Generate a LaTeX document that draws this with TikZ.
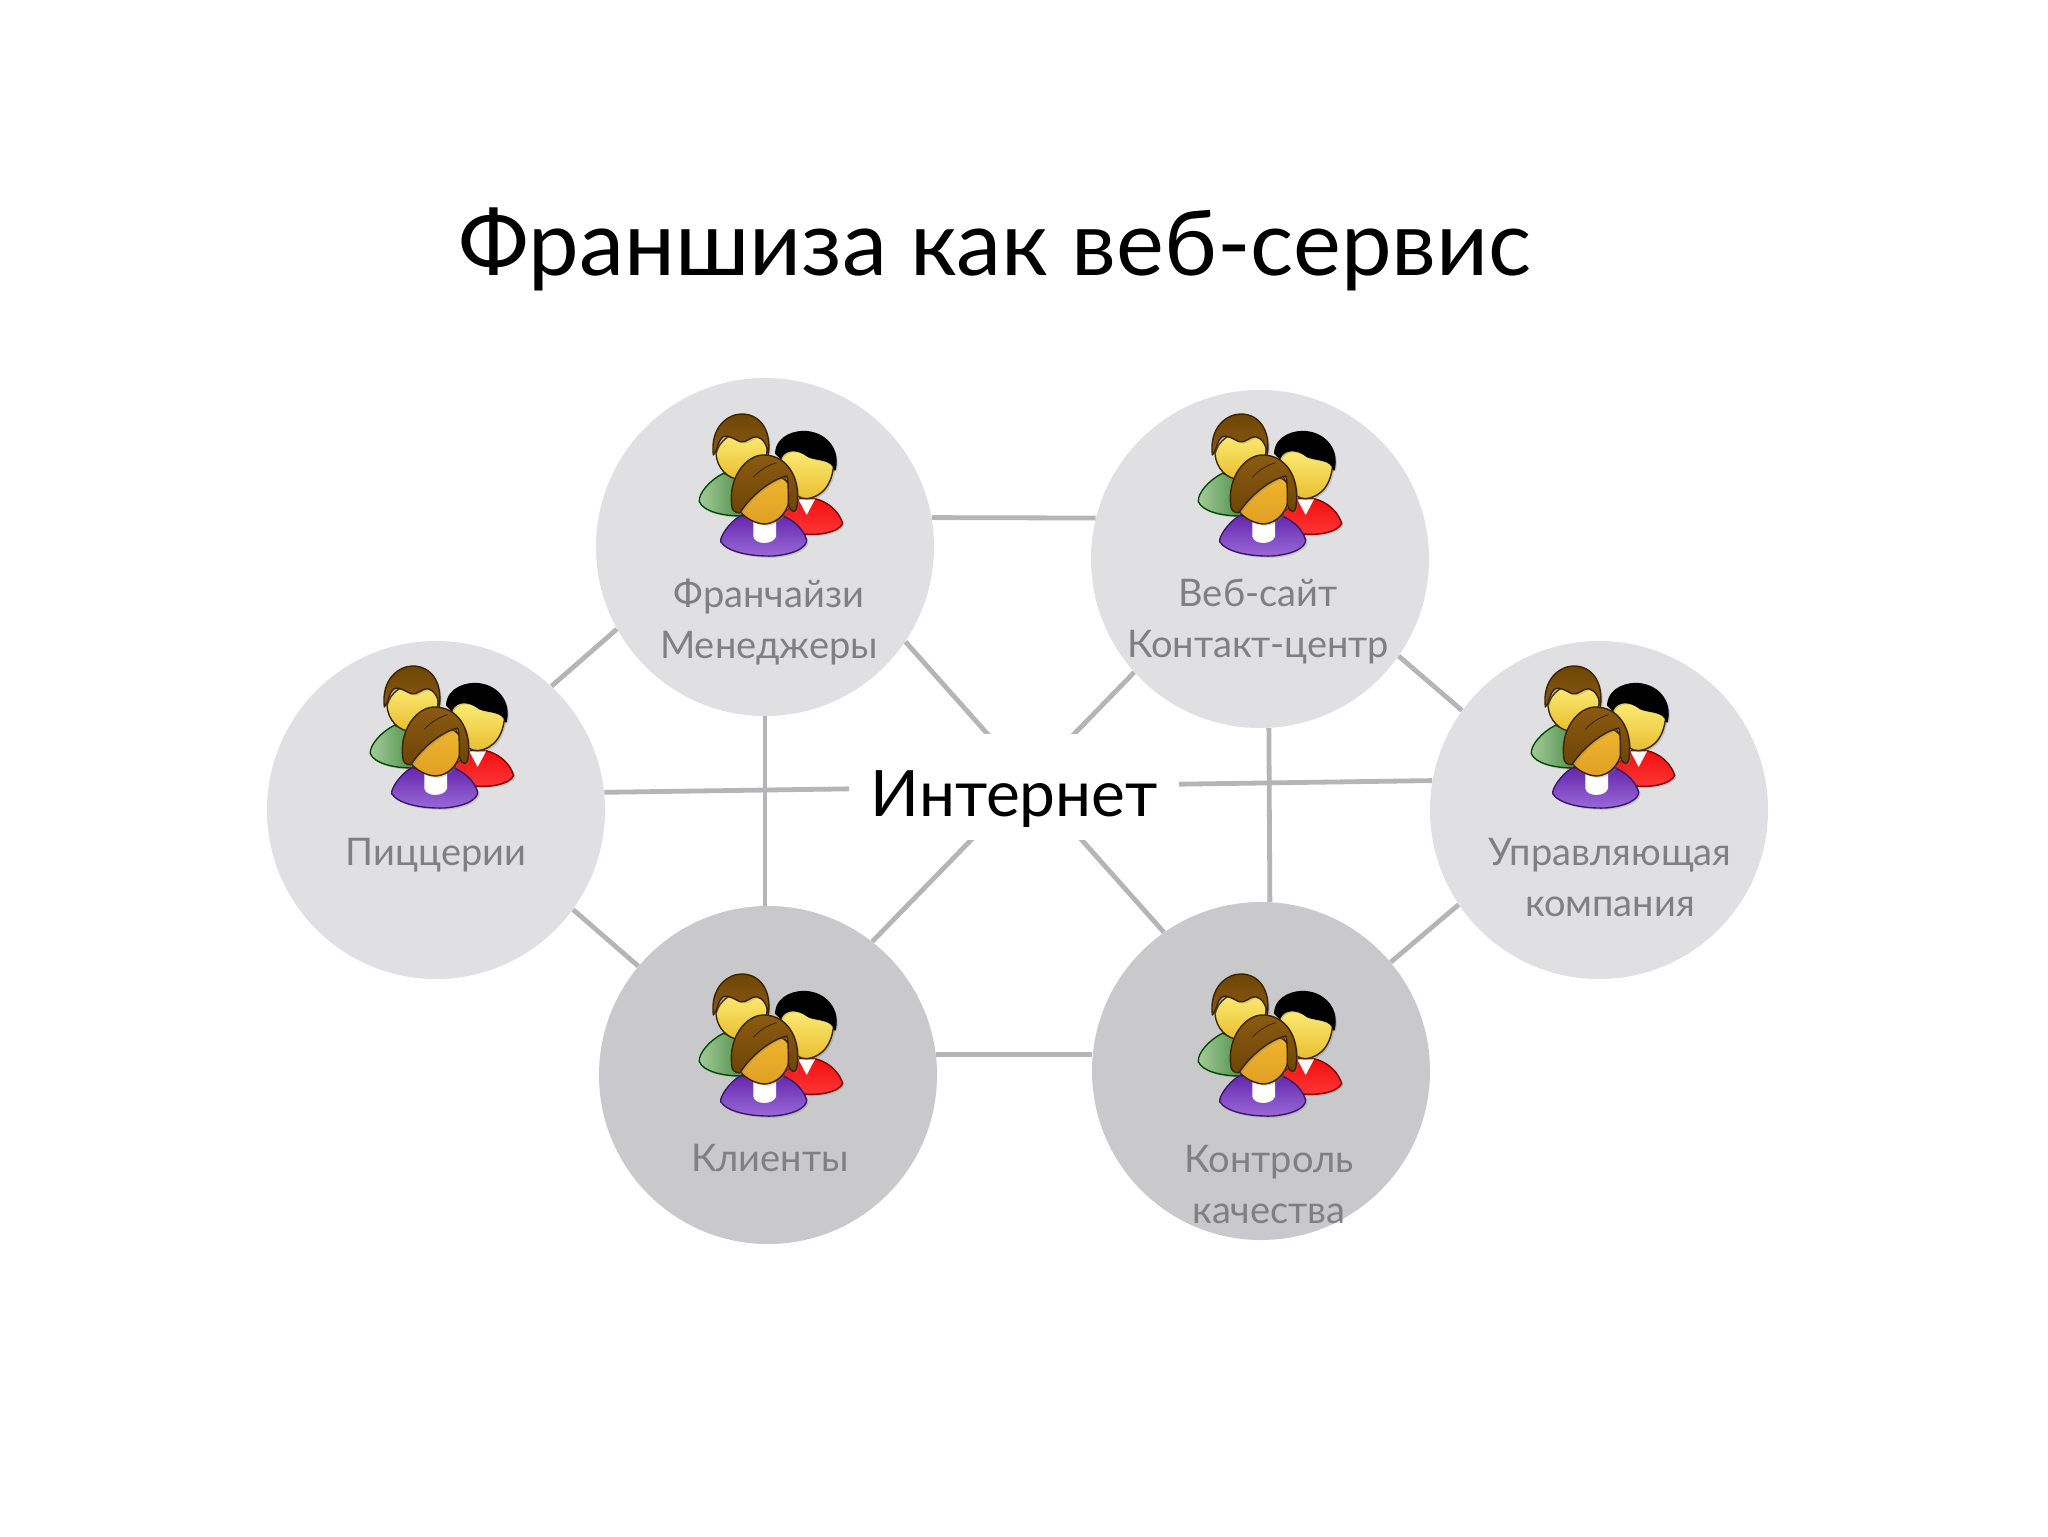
\documentclass[tikz,border=0pt]{standalone}
\usepackage{fontspec}
\usetikzlibrary{shadows}
\setmainfont{Lato}
\definecolor{lightdisc}{HTML}{E0E0E2}
\definecolor{darkdisc}{HTML}{C9C8CB}
\definecolor{wire}{HTML}{B5B5B8}
\definecolor{caption}{HTML}{808082}
\definecolor{faceTop}{HTML}{FFF27E}
\definecolor{faceLow}{HTML}{E8BE30}
\definecolor{womanTop}{HTML}{F0B830}
\definecolor{womanLow}{HTML}{E0A024}
\definecolor{hairTop}{HTML}{8A5A12}
\definecolor{hairLow}{HTML}{6E4506}
\definecolor{hairLine}{HTML}{3A2404}
\definecolor{shirtGreen}{HTML}{A4CC9C}
\definecolor{shirtGreenLow}{HTML}{4E8E48}
\definecolor{shirtRed}{HTML}{F00C0C}
\definecolor{shirtRedLow}{HTML}{FF3A3A}
\definecolor{shirtViolet}{HTML}{6426AC}
\definecolor{shirtVioletLow}{HTML}{9A6AD8}

\tikzstyle{disc} = [circle, minimum size=169pt, inner sep=0pt, fill=lightdisc]
\tikzstyle{discdark} = [disc, fill=darkdisc]
\tikzstyle{wire} = [draw=wire, line width=2.4pt]
\tikzstyle{label} = [align=center, text=caption, font=\fontsize{19}{25.5}\selectfont]
\tikzstyle{cloud} = [fill=white, inner sep=0pt, minimum width=165pt, minimum height=53pt,
    text height=29pt, text depth=0pt, font=\fontsize{32}{36}\selectfont]
\tikzstyle{outline} = [line width=0.7pt, line join=round,
    drop shadow={shadow xshift=0.9pt, shadow yshift=-0.9pt, opacity=0.3}]

\tikzset{people/.pic={
  \begin{scope}[x=0.5pt/3, y=-0.5pt/3, shift={(-52.5pt,78.5pt)}]
    % man on the left
    \draw [outline, draw=black!70!green, left color=shirtGreen, right color=shirtGreenLow]
      (190,250) .. controls (150,270) and (115,310) .. (118,335)
      .. controls (130,365) and (190,378) .. (245,378) -- (250,270) -- cycle;
    \draw [outline, draw=hairLine, top color=faceTop, bottom color=faceLow]
      (168,190) .. controls (170,235) and (205,268) .. (240,268)
      .. controls (285,268) and (320,235) .. (322,170)
      .. controls (300,110) and (190,110) .. (168,190) -- cycle;
    \draw [outline, draw=hairLine, top color=hairLow, bottom color=hairTop]
      (160,195) .. controls (150,110) and (205,72) .. (245,72)
      .. controls (300,72) and (335,120) .. (325,195)
      .. controls (322,165) and (310,145) .. (290,140)
      .. controls (270,140) and (260,160) .. (240,155)
      .. controls (220,145) and (205,135) .. (190,140)
      .. controls (170,155) and (175,180) .. (160,195) -- cycle;
    % man on the right
    \draw [outline, draw=red!50!black, top color=shirtRed, bottom color=shirtRedLow]
      (420,325) .. controls (470,315) and (530,345) .. (548,400)
      .. controls (540,425) and (470,445) .. (390,425) -- (370,370) -- cycle;
    \fill [white] (415,328) -- (465,328) -- (440,375) -- cycle;
    \draw [outline, draw=hairLine, top color=faceTop, bottom color=faceLow]
      (362,195) .. controls (365,270) and (400,328) .. (440,326)
      .. controls (490,320) and (520,280) .. (522,210)
      .. controls (480,160) and (400,160) .. (362,195) -- cycle;
    \draw [outline, draw=black, fill=black]
      (347,190) .. controls (350,135) and (410,122) .. (440,125)
      .. controls (500,130) and (540,180) .. (525,240)
      .. controls (515,205) and (475,212) .. (445,200)
      .. controls (415,175) and (375,175) .. (362,205) -- cycle;
    % woman in front
    \draw [outline, draw=shirtViolet!60!black, top color=shirtViolet, bottom color=shirtVioletLow]
      (240,378) .. controls (205,400) and (180,440) .. (182,455)
      .. controls (200,485) and (270,500) .. (340,498)
      .. controls (410,492) and (440,470) .. (440,450)
      .. controls (430,415) and (395,385) .. (360,375) -- cycle;
    \fill [white] (280,395) -- (280,440) .. controls (285,465) and (340,465) .. (348,440) -- (348,395) -- cycle;
    \draw [outline, draw=hairLine, top color=womanTop, bottom color=womanLow]
      (235,355) .. controls (250,385) and (290,402) .. (315,402)
      .. controls (350,400) and (390,370) .. (392,300)
      .. controls (380,240) and (300,240) .. (235,355) -- cycle;
    \draw [outline, draw=hairLine, top color=hairTop, bottom color=hairLow]
      (215,345) .. controls (205,260) and (260,195) .. (310,195)
      .. controls (380,195) and (420,260) .. (412,340)
      .. controls (410,372) and (395,372) .. (385,345)
      .. controls (385,300) and (385,270) .. (380,258)
      .. controls (330,270) and (270,320) .. (240,368)
      .. controls (225,370) and (215,360) .. (215,345) -- cycle;
    \draw [hairLine, line width=0.4pt] (280,262) .. controls (300,240) and (325,225) .. (350,218);
  \end{scope}
}}

\begin{document}
\begin{tikzpicture}[x=0.5pt, y=-0.5pt]
    \useasboundingbox (0,0) rectangle (2048,1536);
    \fill [white] (0,0) rectangle (2048,1536);

    \node [font=\fontsize{45.2}{50}\selectfont] (title) at (995,249) {Франшиза как веб-сервис};

    \node [disc] (franchise) at (765,547) {};
    \node [disc] (website) at (1260,559) {};
    \node [disc] (pizzeria) at (436,810) {};
    \node [disc] (company) at (1599,810) {};
    \node [discdark] (clients) at (768,1075) {};
    \node [discdark] (quality) at (1261,1071) {};

    \draw [wire] (franchise.10) -- (website.166);
    \draw [wire] (clients.7) -- (clients.7 -| quality.west);
    \draw [wire] (franchise.south) -- (franchise.south |- clients.north);
    \draw [wire] (website.-87) -- (quality.87);
    \draw [wire] (pizzeria.6) -- (company.170);
    \draw [wire] (pizzeria.47) -- (franchise.209);
    \draw [wire] (pizzeria.-36) -- (clients.140);
    \draw [wire] (website.-35) -- (company.144);
    \draw [wire] (company.214) -- (quality.40);
    \draw [wire] (franchise.-34) -- (quality.125);
    \draw [wire] (website.222) -- (clients.52);

    \node [cloud] (internet) at (1014,787) {Интернет};

    \pic at (765,547) {people};
    \pic at (1264,547) {people};
    \pic at (436,799) {people};
    \pic at (1597,799) {people};
    \pic at (765,1107) {people};
    \pic at (1264,1107) {people};

    \node [label] (franchiselabel) at (769,622) {Франчайзи\\Менеджеры};
    \node [label] (websitelabel) at (1258,622) {Веб-сайт\\Контакт-центр};
    \node [label] (pizzerialabel) at (436,855) {Пиццерии};
    \node [label] (companylabel) at (1610,878) {Управляющая\\компания};
    \node [label] (clientslabel) at (770,1158) {Клиенты};
    \node [label] (qualitylabel) at (1269,1185) {Контроль\\качества};
\end{tikzpicture}
\end{document}
